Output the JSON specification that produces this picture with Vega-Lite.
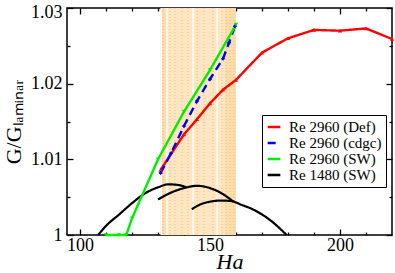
{
  "$schema": "https://vega.github.io/schema/vega-lite/v6.json",
  "width": 325,
  "height": 227,
  "autosize": {"type": "none"},
  "padding": {"left": 67, "top": 8, "right": 3, "bottom": 38},
  "background": "white",
  "config": {
    "view": {"stroke": "black", "strokeWidth": 1.5},
    "font": "Liberation Serif",
    "axis": {"domain": false, "grid": false, "tickColor": "black", "labelColor": "black", "titleColor": "black", "labelFont": "Liberation Serif", "titleFont": "Liberation Serif", "labelFontSize": 18, "tickWidth": 1.3},
    "legend": {"labelFont": "Liberation Serif"}
  },
  "datasets": {
    "band": [{"x0": 131, "x1": 160}],
    "dark": [{"x0": 155.8, "x1": 160}, {"x0": 131.5, "x1": 133.2}],
    "white": [{"ha": 131.3}, {"ha": 133.4}, {"ha": 143.5}, {"ha": 152.7}],
    "dots": [{"ha": 131.9}, {"ha": 134.6}, {"ha": 136.5}, {"ha": 139.2}, {"ha": 141.5}, {"ha": 145}, {"ha": 147.7}, {"ha": 151.2}, {"ha": 154.6}, {"ha": 156.2}, {"ha": 157.7}, {"ha": 159.2}],
    "colored": [
      {"s": "Re 2960 (Def)", "ha": 131, "g": 1.0086},
      {"s": "Re 2960 (Def)", "ha": 140, "g": 1.0133},
      {"s": "Re 2960 (Def)", "ha": 145, "g": 1.0153},
      {"s": "Re 2960 (Def)", "ha": 150, "g": 1.0174},
      {"s": "Re 2960 (Def)", "ha": 155, "g": 1.0192},
      {"s": "Re 2960 (Def)", "ha": 160, "g": 1.0205},
      {"s": "Re 2960 (Def)", "ha": 170, "g": 1.0241},
      {"s": "Re 2960 (Def)", "ha": 180, "g": 1.0260},
      {"s": "Re 2960 (Def)", "ha": 190, "g": 1.0271},
      {"s": "Re 2960 (Def)", "ha": 200, "g": 1.0270},
      {"s": "Re 2960 (Def)", "ha": 210, "g": 1.0273},
      {"s": "Re 2960 (Def)", "ha": 220, "g": 1.0259},
      {"s": "Re 2960 (cdgc)", "ha": 131, "g": 1.0082},
      {"s": "Re 2960 (cdgc)", "ha": 135, "g": 1.0108},
      {"s": "Re 2960 (cdgc)", "ha": 140, "g": 1.0144},
      {"s": "Re 2960 (cdgc)", "ha": 145, "g": 1.0177},
      {"s": "Re 2960 (cdgc)", "ha": 150, "g": 1.0206},
      {"s": "Re 2960 (cdgc)", "ha": 155, "g": 1.0233},
      {"s": "Re 2960 (cdgc)", "ha": 157.3, "g": 1.0254},
      {"s": "Re 2960 (cdgc)", "ha": 159.6, "g": 1.0276},
      {"s": "Re 2960 (SW)", "ha": 110, "g": 1.0},
      {"s": "Re 2960 (SW)", "ha": 115, "g": 1.0},
      {"s": "Re 2960 (SW)", "ha": 117.8, "g": 1.0},
      {"s": "Re 2960 (SW)", "ha": 120, "g": 1.0022},
      {"s": "Re 2960 (SW)", "ha": 130, "g": 1.0100},
      {"s": "Re 2960 (SW)", "ha": 140, "g": 1.0163},
      {"s": "Re 2960 (SW)", "ha": 150, "g": 1.0218},
      {"s": "Re 2960 (SW)", "ha": 160, "g": 1.0278}
    ],
    "black": [
      {"s": "Re 1480 (SW)", "arc": 1, "ha": 107, "g": 1.0},
      {"s": "Re 1480 (SW)", "arc": 1, "ha": 110, "g": 1.0012},
      {"s": "Re 1480 (SW)", "arc": 1, "ha": 115, "g": 1.0027},
      {"s": "Re 1480 (SW)", "arc": 1, "ha": 120, "g": 1.0042},
      {"s": "Re 1480 (SW)", "arc": 1, "ha": 125, "g": 1.0055},
      {"s": "Re 1480 (SW)", "arc": 1, "ha": 130, "g": 1.0063},
      {"s": "Re 1480 (SW)", "arc": 1, "ha": 134, "g": 1.0067},
      {"s": "Re 1480 (SW)", "arc": 1, "ha": 138, "g": 1.0066},
      {"s": "Re 1480 (SW)", "arc": 1, "ha": 141, "g": 1.0063},
      {"s": "Re 1480 (SW)", "arc": 2, "ha": 130, "g": 1.0047},
      {"s": "Re 1480 (SW)", "arc": 2, "ha": 135, "g": 1.0056},
      {"s": "Re 1480 (SW)", "arc": 2, "ha": 140, "g": 1.0062},
      {"s": "Re 1480 (SW)", "arc": 2, "ha": 145, "g": 1.0065},
      {"s": "Re 1480 (SW)", "arc": 2, "ha": 150, "g": 1.0062},
      {"s": "Re 1480 (SW)", "arc": 2, "ha": 155, "g": 1.0054},
      {"s": "Re 1480 (SW)", "arc": 2, "ha": 159, "g": 1.0044},
      {"s": "Re 1480 (SW)", "arc": 3, "ha": 143, "g": 1.0034},
      {"s": "Re 1480 (SW)", "arc": 3, "ha": 146, "g": 1.0040},
      {"s": "Re 1480 (SW)", "arc": 3, "ha": 150, "g": 1.0044},
      {"s": "Re 1480 (SW)", "arc": 3, "ha": 154, "g": 1.00455},
      {"s": "Re 1480 (SW)", "arc": 3, "ha": 158, "g": 1.0045},
      {"s": "Re 1480 (SW)", "arc": 3, "ha": 162, "g": 1.0040},
      {"s": "Re 1480 (SW)", "arc": 3, "ha": 167, "g": 1.0033},
      {"s": "Re 1480 (SW)", "arc": 3, "ha": 173, "g": 1.0020},
      {"s": "Re 1480 (SW)", "arc": 3, "ha": 179.5, "g": 1.0}
    ]
  },
  "resolve": {"axis": {"x": "independent", "y": "independent"}},
  "layer": [
    {
      "data": {"name": "band"},
      "mark": {"type": "rect", "color": "#fee6c2"},
      "encoding": {
        "x": {"field": "x0", "type": "quantitative", "scale": {"domain": [95, 220], "nice": false, "zero": false},
              "axis": {"orient": "bottom", "values": [100, 150, 200], "offset": -6, "tickSize": 6, "labelPadding": 1, "format": "d", "title": "Ha", "titleFontStyle": "italic", "titleFontWeight": "normal", "titleFontSize": 22, "titlePadding": -3}},
        "x2": {"field": "x1"},
        "y": {"datum": 1, "type": "quantitative", "scale": {"domain": [1, 1.03], "nice": false, "zero": false},
              "axis": {"orient": "left", "values": [1, 1.01, 1.02, 1.03], "offset": -6, "tickSize": 6, "labelPadding": 5, "format": "~g",
                       "labelOffset": {"condition": {"test": "datum.value > 1.025", "value": 4}, "value": 0},
                       "title": "G/Gₗₐₘᵢₙₐᵣ", "titleFontWeight": "normal", "titleFontSize": 22, "titlePadding": 5}},
        "y2": {"datum": 1.03}
      }
    },
    {
      "data": {"name": "dark"},
      "mark": {"type": "rect", "color": "#fcd9a4", "opacity": 0.7},
      "encoding": {
        "x": {"field": "x0", "type": "quantitative", "axis": {"orient": "bottom", "values": [110, 120, 130, 140, 160, 170, 180, 190, 210], "offset": -3, "tickSize": 3, "labels": false, "title": null}},
        "x2": {"field": "x1"},
        "y": {"datum": 1, "type": "quantitative", "axis": {"orient": "left", "values": [1.005, 1.015, 1.025], "offset": -3, "tickSize": 3, "labels": false, "title": null}},
        "y2": {"datum": 1.03}
      }
    },
    {
      "data": {"name": "white"},
      "mark": {"type": "rule", "color": "white", "strokeWidth": 1.2},
      "encoding": {
        "x": {"field": "ha", "type": "quantitative", "axis": null}
      }
    },
    {
      "data": {"name": "dots"},
      "mark": {"type": "rule", "color": "#f5b04a", "strokeWidth": 1, "strokeDash": [1, 2], "opacity": 0.7},
      "encoding": {
        "x": {"field": "ha", "type": "quantitative", "axis": null}
      }
    },
    {
      "data": {"name": "black"},
      "mark": {"type": "line", "interpolate": "monotone", "strokeWidth": 2.2},
      "encoding": {
        "x": {"field": "ha", "type": "quantitative", "axis": {"orient": "top", "values": [100, 150, 200], "offset": -6, "tickSize": 6, "labels": false, "title": null}},
        "y": {"field": "g", "type": "quantitative", "axis": {"orient": "right", "values": [1, 1.01, 1.02, 1.03], "offset": -6, "tickSize": 6, "labels": false, "title": null}},
        "detail": {"field": "arc"},
        "color": {"field": "s", "type": "nominal"},
        "strokeDash": {"field": "s", "type": "nominal"}
      }
    },
    {
      "data": {"name": "colored"},
      "mark": {"type": "line", "strokeWidth": 2.4},
      "encoding": {
        "x": {"field": "ha", "type": "quantitative", "axis": {"orient": "top", "values": [110, 120, 130, 140, 160, 170, 180, 190, 210], "offset": -3, "tickSize": 3, "labels": false, "title": null}},
        "y": {"field": "g", "type": "quantitative", "axis": {"orient": "right", "values": [1.005, 1.015, 1.025], "offset": -3, "tickSize": 3, "labels": false, "title": null}},
        "color": {"field": "s", "type": "nominal",
          "scale": {"domain": ["Re 2960 (Def)", "Re 2960 (cdgc)", "Re 2960 (SW)", "Re 1480 (SW)"], "range": ["#ff0000", "#0000ff", "#00ee00", "#000000"]},
          "legend": {"title": null, "orient": "none", "legendX": 195, "legendY": 107, "strokeColor": "black", "fillColor": "white", "padding": 4, "labelFont": "Liberation Serif", "labelFontSize": 15, "labelColor": "black", "symbolType": "stroke", "symbolStrokeWidth": 2.5, "symbolSize": 160, "rowPadding": 0, "labelOffset": 7}},
        "strokeDash": {"field": "s", "type": "nominal",
          "scale": {"domain": ["Re 2960 (Def)", "Re 2960 (cdgc)", "Re 2960 (SW)", "Re 1480 (SW)"], "range": [[1, 0], [8, 5], [1, 0], [1, 0]]},
          "legend": {"title": null}}
      }
    },
    {
      "data": {"name": "colored"},
      "mark": {"type": "point", "filled": true, "size": 18, "opacity": 1},
      "encoding": {
        "x": {"field": "ha", "type": "quantitative", "axis": null},
        "y": {"field": "g", "type": "quantitative", "axis": null},
        "color": {"field": "s", "type": "nominal"},
        "shape": {"field": "s", "type": "nominal", "scale": {"domain": ["Re 2960 (Def)", "Re 2960 (cdgc)", "Re 2960 (SW)"], "range": ["triangle-up", "diamond", "triangle-down"]}, "legend": null}
      }
    }
  ]
}
